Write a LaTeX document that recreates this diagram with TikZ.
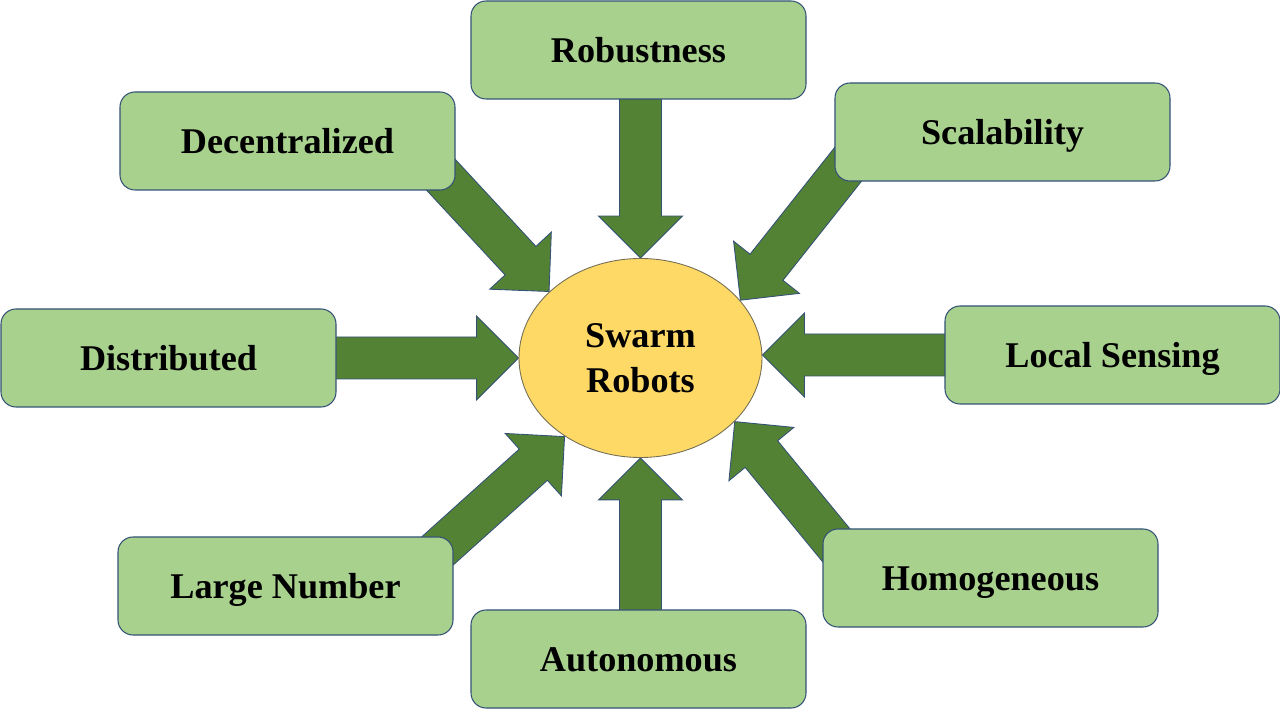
\documentclass[tikz,border=0pt]{standalone}
\usepackage{fontspec}
\setmainfont{Liberation Serif}
\usetikzlibrary{calc,backgrounds,shapes.geometric}

\definecolor{boxgreen}{RGB}{169,209,142}
\definecolor{arrowgreen}{RGB}{84,130,53}
\definecolor{edgeblue}{RGB}{52,82,118}
\definecolor{coreyellow}{RGB}{255,217,102}
\definecolor{coreedge}{RGB}{115,110,85}

\tikzset{
  trait/.style={draw=edgeblue, line width=0.6pt, fill=boxgreen, rounded corners=0.3cm,
    minimum width=6.7cm, minimum height=1.96cm, inner sep=0pt,
    text height=14.4pt, text depth=0pt,
    font=\fontsize{20.6}{25}\selectfont\bfseries},
  core/.style={ellipse, draw=coreedge, line width=0.5pt, fill=coreyellow,
    minimum width=4.86cm, minimum height=3.98cm, inner sep=0pt, align=center,
    font=\fontsize{20.6}{25.5}\selectfont\bfseries},
  arrowbody/.style={draw=edgeblue, line width=0.5pt, fill=arrowgreen}
}

% block arrow from #1 to #2
\newcommand{\fatarrow}[2]{%
  \draw[arrowbody] let \p1=($(#2)-(#1)$), \n1={atan2(\y1,\x1)}, \n2={veclen(\x1,\y1)} in
    [shift={(#1)}, rotate=\n1]
    (-0.6cm,-0.42cm) -- ({\n2-0.84cm},-0.42cm) -- ({\n2-0.84cm},-0.84cm) -- (\n2,0pt)
    -- ({\n2-0.84cm},0.84cm) -- ({\n2-0.84cm},0.42cm) -- (-0.6cm,0.42cm) -- cycle;}

\begin{document}
\begin{tikzpicture}
\useasboundingbox (0,0) rectangle (25.6,14.4);

\node[core] (swarm) at (12.81,7.24) {Swarm\\Robots};

\node[trait] (robust) at (12.77,13.4) {Robustness};
\node[trait] (decent) at (5.75,11.58) {Decentralized};
\node[trait] (scal) at (20.05,11.76) {Scalability};
\node[trait] (distr) at (3.37,7.24) {Distributed};
\node[trait] (local) at (22.25,7.30) {Local Sensing};
\node[trait] (large) at (5.71,2.68) {Large Number};
\node[trait] (auto) at (12.77,1.22) {Autonomous};
\node[trait] (homog) at (19.81,2.84) {Homogeneous};

\coordinate (robusttip) at (swarm.north);
\coordinate (distrtip) at (swarm.west |- distr.east);
\coordinate (localtip) at (swarm.east |- local.west);
\coordinate (autotip) at (swarm.south);

\begin{scope}[on background layer]
\fatarrow{robust.south -| robusttip}{robusttip}
\fatarrow{decent.south east}{swarm.144}
\fatarrow{scal.south west}{swarm.30}
\fatarrow{distr.east}{distrtip}
\fatarrow{local.west}{localtip}
\fatarrow{large.north east}{swarm.226}
\fatarrow{auto.north -| autotip}{autotip}
\fatarrow{homog.north west}{swarm.326}
\end{scope}
\end{tikzpicture}
\end{document}
